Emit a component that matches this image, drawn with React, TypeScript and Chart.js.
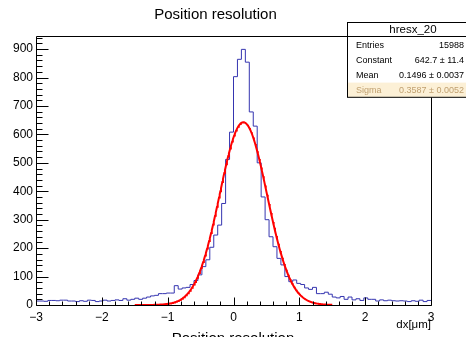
import { useEffect, useRef } from "react";
import { Chart, registerables } from "chart.js";

Chart.register(...registerables);

const TITLE = "Position resolution";
const X_AXIS_TITLE = "dx[\u03bcm]";
const X_MIN = -3;
const X_MAX = 3;
const Y_MAX = 946;
const X_TICKS = [-3, -2, -1, 0, 1, 2, 3];
const Y_TICKS = [0, 100, 200, 300, 400, 500, 600, 700, 800, 900];

// 100 bins from -3 to 3 (bin width 0.06)
const BIN_COUNTS = [
  14, 14, 13, 16, 16, 15, 17, 17, 14, 14,
  12, 15, 13, 17, 16, 12, 14, 17, 14, 16,
  18, 16, 22, 17, 20, 24, 20, 24, 28, 32,
  34, 40, 40, 42, 42, 68, 56, 60, 62, 72,
  86, 106, 135, 159, 203, 246, 281, 357, 512, 608,
  803, 864, 899, 854, 679, 629, 500, 380, 300, 240,
  205, 164, 141, 100, 82, 88, 76, 72, 60, 55,
  62, 40, 40, 45, 38, 28, 25, 30, 20, 28,
  18, 22, 16, 25, 20, 20, 14, 18, 15, 17,
  15, 14, 15, 14, 12, 15, 13, 17, 12, 16,
];

// Gaussian fit parameters (from the stats box)
const FIT_CONSTANT = 642.7;
const FIT_MEAN = 0.1496;
const FIT_SIGMA = 0.3587;
const FIT_RANGE = [-1.5, 1.5];
const FIT_STEP = 0.01;

const STATS_NAME = "hresx_20";
const STATS_LABELS = ["Entries", "Constant", "Mean", "Sigma"];
const STATS_VALUES = ["15988", "642.7 \u00b1 11.4", "0.1496 \u00b1 0.0037", "0.3587 \u00b1 0.0052"];

const FONT = "'Liberation Sans', Arial, Helvetica, sans-serif";

function histPoints() {
  const w = (X_MAX - X_MIN) / BIN_COUNTS.length;
  const pts = BIN_COUNTS.map((v, i) => ({ x: X_MIN + i * w, y: v }));
  pts.push({ x: X_MAX, y: BIN_COUNTS[BIN_COUNTS.length - 1] });
  return pts;
}

function fitPoints() {
  const pts: { x: number; y: number }[] = [];
  const n = Math.round((FIT_RANGE[1] - FIT_RANGE[0]) / FIT_STEP);
  for (let i = 0; i <= n; i++) {
    const x = FIT_RANGE[0] + i * FIT_STEP;
    const z = (x - FIT_MEAN) / FIT_SIGMA;
    pts.push({ x, y: FIT_CONSTANT * Math.exp(-0.5 * z * z) });
  }
  return pts;
}

const rootPlugin = {
  id: "rootDecor",
  afterDatasetsDraw(chart: any) {
    const ctx = chart.ctx as CanvasRenderingContext2D;
    const { left, right, top, bottom } = chart.chartArea;
    const xs = chart.scales.x;
    const ys = chart.scales.y;
    const L = Math.round(left) + 0.5;
    const R = Math.round(right) + 0.5;
    const T = Math.round(top) + 0.5;
    const B = Math.round(bottom) + 0.5;
    ctx.save();
    ctx.strokeStyle = "#000";
    ctx.lineWidth = 1;
    ctx.beginPath();
    ctx.rect(L, T, R - L, B - T);
    for (let v = X_MIN; v <= X_MAX + 1e-9; v += 0.2) {
      const major = Math.abs(v - Math.round(v)) < 1e-6;
      const px = Math.round(xs.getPixelForValue(v)) + 0.5;
      ctx.moveTo(px, B);
      ctx.lineTo(px, B - (major ? 8 : 4));
    }
    for (let v = 0; v <= Y_MAX; v += 20) {
      const major = v % 100 === 0;
      const py = Math.round(ys.getPixelForValue(v)) + 0.5;
      ctx.moveTo(L, py);
      ctx.lineTo(L + (major ? 12 : 6), py);
    }
    ctx.stroke();
    ctx.restore();
  },
  afterDraw(chart: any) {
    const ctx = chart.ctx as CanvasRenderingContext2D;
    ctx.save();
    const bx = 347.5, by = 22.5, bw = 140, hh = 14, rh = 15.2;
    const bh = hh + rh * STATS_LABELS.length;
    ctx.fillStyle = "#fff";
    ctx.fillRect(bx, by, bw, bh);
    ctx.fillStyle = "#fcf0d6";
    ctx.fillRect(bx + 0.5, by + hh + rh * 3 + 0.5, bw, rh - 0.5);
    ctx.strokeStyle = "#000";
    ctx.lineWidth = 1;
    ctx.strokeRect(bx, by, bw, bh);
    ctx.beginPath();
    ctx.moveTo(bx, by + hh);
    ctx.lineTo(bx + bw, by + hh);
    ctx.stroke();
    ctx.fillStyle = "#000";
    ctx.textBaseline = "middle";
    ctx.textAlign = "center";
    ctx.font = `11.5px ${FONT}`;
    ctx.fillText(STATS_NAME, 413, by + hh / 2 + 0.5);
    ctx.font = `9px ${FONT}`;
    STATS_LABELS.forEach((lab, i) => {
      const cy = by + hh + rh * i + rh / 2 + 1;
      ctx.fillStyle = i === 3 ? "#c0a070" : "#000";
      ctx.textAlign = "left";
      ctx.fillText(lab, 356, cy);
      ctx.textAlign = "right";
      ctx.fillText(STATS_VALUES[i], 464, cy);
    });
    ctx.fillStyle = "#000";
    ctx.textAlign = "center";
    ctx.textBaseline = "alphabetic";
    ctx.font = `15px ${FONT}`;
    ctx.fillText(TITLE, 233, 343);
    ctx.restore();
  },
};

export default function App() {
  const ref = useRef<HTMLCanvasElement | null>(null);
  useEffect(() => {
    const canvas = ref.current;
    if (!canvas) return;
    const chart = new Chart(canvas, {
      type: "line",
      data: {
        datasets: [
          {
            label: "fit",
            data: fitPoints(),
            borderColor: "#ff0000",
            borderWidth: 2,
            pointRadius: 0,
            fill: false,
            tension: 0,
          },
          {
            label: STATS_NAME,
            data: histPoints(),
            borderColor: "#3535b0",
            borderWidth: 1,
            pointRadius: 0,
            fill: false,
            stepped: "before",
          },
        ],
      },
      options: {
        responsive: false,
        animation: false,
        devicePixelRatio: 1,
        layout: { padding: { left: 0, right: 35, top: 0, bottom: 0 } },
        plugins: {
          legend: { display: false },
          tooltip: { enabled: false },
          title: {
            display: true,
            text: TITLE,
            color: "#000",
            font: { family: FONT, size: 15, weight: "normal", lineHeight: 1.2 },
            padding: { top: 6, bottom: 12 },
          },
        },
        scales: {
          x: {
            type: "linear",
            min: X_MIN,
            max: X_MAX,
            grid: { display: false, drawTicks: false },
            border: { display: false },
            afterBuildTicks: (s: any) => {
              s.ticks = X_TICKS.map((v) => ({ value: v }));
            },
            afterFit: (s: any) => {
              s.height = 32;
            },
            ticks: {
              autoSkip: false,
              maxRotation: 0,
              color: "#000",
              padding: 5,
              font: { family: FONT, size: 12 },
              callback: (v: any) => String(v).replace("-", "\u2212"),
            },
            title: {
              display: true,
              text: X_AXIS_TITLE,
              align: "end",
              color: "#000",
              font: { family: FONT, size: 11.5, lineHeight: 1.2 },
              padding: { top: 0, bottom: 5 },
            },
          },
          y: {
            type: "linear",
            min: 0,
            max: Y_MAX,
            grid: { display: false, drawTicks: false },
            border: { display: false },
            afterBuildTicks: (s: any) => {
              s.ticks = Y_TICKS.map((v) => ({ value: v }));
            },
            afterFit: (s: any) => {
              s.width = 36;
            },
            ticks: {
              color: "#000",
              padding: 3,
              font: { family: FONT, size: 12 },
            },
          },
        },
      },
      plugins: [rootPlugin],
    } as any);
    return () => chart.destroy();
  }, []);
  return (
    <div style={{ position: "fixed", left: 0, top: 0, width: 466, height: 337, background: "#fff" }}>
      <canvas ref={ref} width={466} height={337} style={{ display: "block" }} />
    </div>
  );
}
